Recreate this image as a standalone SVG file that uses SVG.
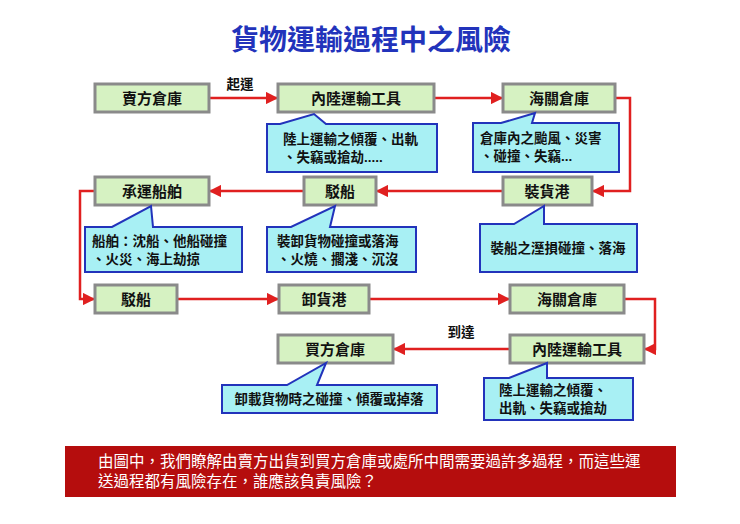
<svg xmlns="http://www.w3.org/2000/svg" width="740" height="524" viewBox="0 0 740 524">
<defs>
<marker id="ah" viewBox="0 0 10 10" refX="9" refY="5" markerWidth="5" markerHeight="5" orient="auto"><path d="M0,0L10,5L0,10z" fill="#e02020"/></marker>
<style>
.b{fill:#d6f2c2;stroke:#8a8a8a;stroke-width:3}
.c{fill:#a8f0f4;stroke:#2233bb;stroke-width:2}
.t{font-family:"Liberation Sans","Noto Sans CJK TC",sans-serif;font-size:15px;font-weight:bold;fill:#111;text-anchor:middle}
.s{font-family:"Liberation Sans","Noto Sans CJK TC",sans-serif;font-size:13.5px;font-weight:bold;fill:#111}
.m{text-anchor:middle}
.l{fill:none;stroke:#e02020;stroke-width:2.5;marker-end:url(#ah)}
.n{font-family:"Liberation Sans","Noto Sans CJK TC",sans-serif;font-size:15.5px;fill:#fff}
</style>
</defs>
<rect width="740" height="524" fill="#fff"/>
<text x="371" y="50" style="font-family:'Liberation Sans','Noto Sans CJK TC',sans-serif;font-size:28px;font-weight:bold;fill:#2233bb;text-anchor:middle">貨物運輸過程中之風險</text>
<g id="connectors">
<path class="l" d="M209,98H277"/>
<path class="l" d="M434,98H502"/>
<path class="l" d="M615,98H630V191H593"/>
<path class="l" d="M503,191H377"/>
<path class="l" d="M304,191H210"/>
<path class="l" d="M95,191H80V299H94"/>
<path class="l" d="M177,299H278"/>
<path class="l" d="M369,299H509"/>
<path class="l" d="M624,299H655V349H645"/>
<path class="l" d="M510,349H394"/>
<text class="s m" x="240" y="89">起運</text>
<text class="s m" x="461" y="337">到達</text>
</g>
<g id="n1"><rect class="b" x="95" y="84" width="114" height="28"/><text class="t" x="152" y="104">賣方倉庫</text></g>
<g id="n2"><rect class="b" x="278" y="84" width="156" height="28"/><text class="t" x="356" y="104">內陸運輸工具</text></g>
<g id="n3"><rect class="b" x="503" y="84" width="112" height="28"/><text class="t" x="559" y="104">海關倉庫</text></g>
<g id="n4"><rect class="b" x="95" y="177" width="114" height="28"/><text class="t" x="152" y="197">承運船舶</text></g>
<g id="n5"><rect class="b" x="304" y="177" width="72" height="28"/><text class="t" x="340" y="197">駁船</text></g>
<g id="n6"><rect class="b" x="503" y="177" width="89" height="28"/><text class="t" x="547" y="197">裝貨港</text></g>
<g id="n7"><rect class="b" x="95" y="285" width="82" height="28"/><text class="t" x="136" y="305">駁船</text></g>
<g id="n8"><rect class="b" x="279" y="285" width="90" height="28"/><text class="t" x="324" y="305">卸貨港</text></g>
<g id="n9"><rect class="b" x="510" y="285" width="114" height="28"/><text class="t" x="567" y="305">海關倉庫</text></g>
<g id="n10"><rect class="b" x="278" y="335" width="115" height="28"/><text class="t" x="335" y="355">買方倉庫</text></g>
<g id="n11"><rect class="b" x="510" y="335" width="134" height="28"/><text class="t" x="577" y="355">內陸運輸工具</text></g>
<g id="c1"><path class="c" d="M267,124H280L314,114L326,124H437V172H267Z"/><text class="s" x="283" y="144">陸上運輸之傾覆、出軌</text><text class="s" x="283" y="162">、失竊或搶劫.....</text></g>
<g id="c2"><path class="c" d="M473,123H501L535,113L532,123H619V172H473Z"/><text class="s" x="480" y="143">倉庫內之颱風、災害</text><text class="s" x="480" y="161">、碰撞、失竊...</text></g>
<g id="c3"><path class="c" d="M85,227H112L151,206L153,227H242V272H85Z"/><text class="s" x="92" y="246">船舶：沈船、他船碰撞</text><text class="s" x="92" y="264">、火災、海上劫掠</text></g>
<g id="c4"><path class="c" d="M267,227H291L335,206L330,227H416V272H267Z"/><text class="s" x="277" y="246">裝卸貨物碰撞或落海</text><text class="s" x="277" y="264">、火燒、擱淺、沉沒</text></g>
<g id="c5"><path class="c" d="M480,224H514L544,206L544,224H637V272H480Z"/><text class="s m" x="558" y="253">裝船之溼損碰撞、落海</text></g>
<g id="c6"><path class="c" d="M222,385H287L326,363L317,385H437V413H222Z"/><text class="s m" x="329" y="404">卸載貨物時之碰撞、傾覆或掉落</text></g>
<g id="c7"><path class="c" d="M484,378H509L547,363L547,378H633V420H484Z"/><text class="s" x="499" y="395">陸上運輸之傾覆、</text><text class="s" x="499" y="413">出軌、失竊或搶劫</text></g>
<g id="note"><rect x="65" y="446" width="611" height="51" fill="#b50d0d"/>
<text class="n" x="98" y="467">由圖中，我們瞭解由賣方出貨到買方倉庫或處所中間需要過許多過程，而這些運</text>
<text class="n" x="98" y="487">送過程都有風險存在，誰應該負責風險？</text></g>
</svg>
